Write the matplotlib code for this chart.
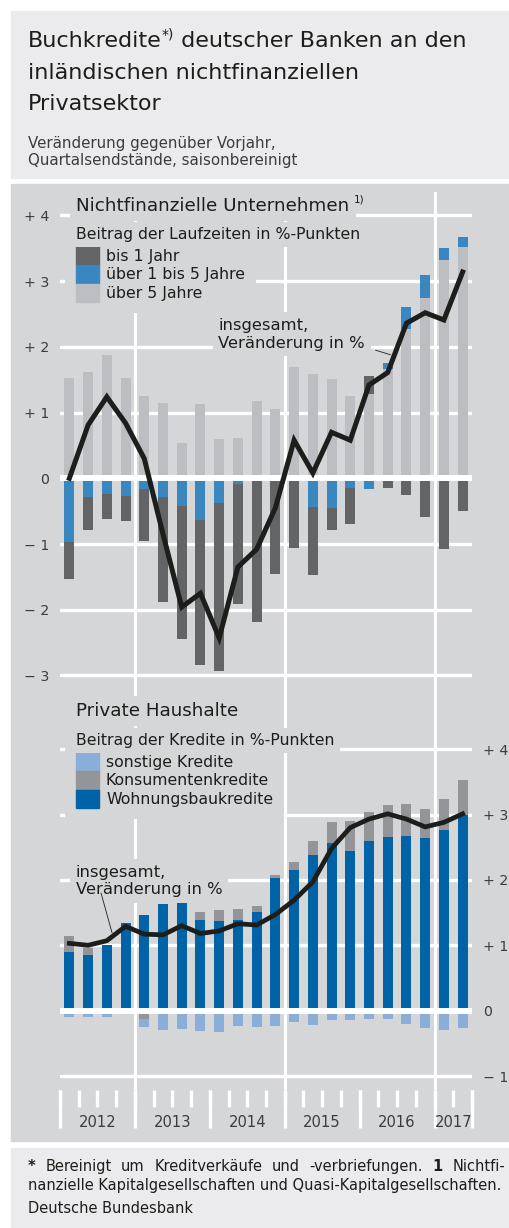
import matplotlib
matplotlib.use("Agg")
import matplotlib.pyplot as plt
from matplotlib.patches import Rectangle, Patch
import numpy as np

plt.rcParams["font.family"] = ["DejaVu Sans"]

# ─── data (Veränderung gegenüber Vorjahr, 2012 Q1 … 2017 Q2) ───────
YEARS = [2012] * 4 + [2013] * 4 + [2014] * 4 + [2015] * 4 + [2016] * 4 + [2017] * 2

# Nichtfinanzielle Unternehmen, Beitrag der Laufzeiten in %-Punkten
nfu_bis1 = [-0.57, -0.49, -0.38, -0.38, -0.79, -1.60, -2.03, -2.21, -2.55, -1.83, -2.17,
            -1.45, -1.03, -1.04, -0.34, -0.54, 0.27, -0.15, -0.26, -0.59, -1.08, -0.50]
nfu_1bis5 = [-0.97, -0.29, -0.24, -0.27, -0.17, -0.29, -0.42, -0.63, -0.38, -0.08, -0.01,
             0.0, -0.03, -0.43, -0.45, -0.15, -0.16, 0.09, 0.33, 0.35, 0.18, 0.15]
nfu_ueber5 = [1.53, 1.62, 1.88, 1.52, 1.26, 1.14, 0.53, 1.13, 0.60, 0.62, 1.17,
              1.05, 1.69, 1.59, 1.51, 1.25, 1.29, 1.67, 2.28, 2.75, 3.33, 3.52]
nfu_total = [0.0, 0.81, 1.24, 0.84, 0.30, -0.85, -1.96, -1.75, -2.43, -1.35, -1.08,
             -0.45, 0.58, 0.08, 0.70, 0.58, 1.42, 1.61, 2.36, 2.52, 2.41, 3.14]

# Private Haushalte, Beitrag der Kredite in %-Punkten
ph_wohnungsbau = [0.89, 0.85, 1.01, 1.34, 1.47, 1.63, 1.67, 1.39, 1.37, 1.39, 1.51,
                  2.03, 2.15, 2.38, 2.57, 2.44, 2.59, 2.66, 2.67, 2.64, 2.77, 3.00]
ph_konsum = [0.25, 0.11, 0.0, 0.0, -0.12, -0.04, 0.06, 0.12, 0.17, 0.16, 0.09,
             0.05, 0.12, 0.21, 0.32, 0.46, 0.45, 0.48, 0.49, 0.45, 0.46, 0.52]
ph_sonstige = [-0.09, -0.10, -0.09, -0.02, -0.13, -0.26, -0.28, -0.31, -0.32, -0.24, -0.25,
               -0.23, -0.18, -0.22, -0.14, -0.14, -0.13, -0.13, -0.20, -0.27, -0.29, -0.27]
ph_total = [1.03, 1.00, 1.07, 1.29, 1.17, 1.16, 1.30, 1.18, 1.22, 1.33, 1.31,
            1.47, 1.69, 1.97, 2.48, 2.80, 2.93, 3.01, 2.93, 2.81, 2.88, 3.01]

TOP_TICKS = [4, 3, 2, 1, 0, -1, -2, -3]
BOT_TICKS = [4, 3, 2, 1, 0, -1]

# ─── styling ───────────────────────────────────────────────────────
W, H = 510, 1228
HEADER_BG = "#ebebed"
PANEL_BG = "#d5d6d8"
INK = "#1d1d1b"
GREY_TXT = "#3c3c3c"
C_BIS1, C_1BIS5, C_UEBER5 = "#636466", "#3a86c0", "#bdbec1"
C_SONST, C_KONSUM, C_WOHN = "#8aaed8", "#939598", "#0063a7"
BAR_W = 0.535

F_TITLE = 16
F_SUB = 10.8
F_PANEL = 13.2
F_TXT = 11.3
F_ANN = 11.8
F_TICK = 10.2
F_YEAR = 10.6
F_FOOT = 10.5


def fx(px):
    return px / W


def fy(py):
    return 1 - py / H


def tick_label(v):
    if v > 0:
        return f"+ {v}"
    if v < 0:
        return f"\u2212 {abs(v)}"
    return "0"


fig = plt.figure(figsize=(W / 100, H / 100), dpi=100)
renderer = fig.canvas.get_renderer()

# background boxes
for top, bottom, col in [(11, 178, HEADER_BG), (184, 1141, PANEL_BG), (1148, 1228, HEADER_BG)]:
    fig.add_artist(Rectangle((fx(11), fy(bottom)), fx(W) - fx(11), (bottom - top) / H,
                             transform=fig.transFigure, color=col, zorder=-5))

MASK = dict(facecolor=PANEL_BG, edgecolor="none", boxstyle="square,pad=0.35")


def runs(x, y, parts, **kw):
    """Place consecutive text pieces (text, size, rise) on one baseline."""
    for s, size, rise in parts:
        t = fig.text(fx(x), fy(y - rise), s, fontsize=size, va="baseline", **kw)
        x += t.get_window_extent(renderer).width


def justify(words, x0, x1, y, size):
    arts = [fig.text(0, fy(y), w, fontsize=size, fontweight=wt, va="baseline", color=INK)
            for w, wt in words]
    widths = [a.get_window_extent(renderer).width for a in arts]
    gap = (x1 - x0 - sum(widths)) / (len(arts) - 1)
    x = x0
    for a, w in zip(arts, widths):
        a.set_x(fx(x))
        x += w + gap


# header
runs(28, 47, [("Buchkredite", F_TITLE, 0), ("*)", 10, 8), (" deutscher Banken an den", F_TITLE, 0)],
     color=INK)
fig.text(fx(28), fy(79), "inländischen nichtfinanziellen", fontsize=F_TITLE, va="baseline", color=INK)
fig.text(fx(28), fy(110), "Privatsektor", fontsize=F_TITLE, va="baseline", color=INK)
fig.text(fx(28), fy(148), "Veränderung gegenüber Vorjahr,", fontsize=F_SUB, va="baseline",
         color=GREY_TXT)
fig.text(fx(28), fy(165), "Quartalsendstände, saisonbereinigt", fontsize=F_SUB, va="baseline",
         color=GREY_TXT)

x = np.arange(len(YEARS))
year_list = sorted(set(YEARS))
year_pos = [x[np.array(YEARS) == yr].mean() for yr in year_list]
year_edges = [x[np.array(YEARS) == yr].min() - 0.5 for yr in year_list] + [x[-1] + 0.5]
quarter_edges = np.arange(len(YEARS) + 1) - 0.5


def stacked(ax, series, colors):
    pos = np.zeros(len(x))
    neg = np.zeros(len(x))
    for vals, col in zip(series, colors):
        v = np.asarray(vals, dtype=float)
        ax.bar(x, v, BAR_W, bottom=np.where(v >= 0, pos, neg), color=col, linewidth=0, zorder=2)
        pos += np.clip(v, 0, None)
        neg += np.clip(v, None, 0)


def panel(ax, ticks):
    ax.patch.set_visible(False)
    for s in ax.spines.values():
        s.set_visible(False)
    ax.set_xlim(-0.5, len(x) - 0.5)
    ax.set_xticks([])
    ax.set_yticks(ticks)
    ax.set_yticklabels([tick_label(t) for t in ticks])
    ax.tick_params(axis="y", length=0, pad=8, labelsize=F_TICK, labelcolor=GREY_TXT)
    for t in ticks:
        if t == 0:
            ax.axhline(0, color="white", lw=4.3, zorder=2.5)
        else:
            ax.axhline(t, color="white", lw=2.4, zorder=1)
    for e in year_edges[1::2]:
        if e < len(x) - 0.5:
            ax.axvline(e, color="white", lw=2.2, zorder=1)


def panel_legend(ax, handles, top_px):
    size_px = F_TXT * 100 / 72
    leg = ax.legend(
        handles=handles, loc="upper left",
        bbox_to_anchor=(fx(76 - 11), fy(top_px - 11)), bbox_transform=fig.transFigure,
        fontsize=F_TXT, handlelength=23 / size_px, handleheight=23 / size_px, labelspacing=0,
        handletextpad=7 / size_px, borderpad=11 / size_px, borderaxespad=0, frameon=True,
        fancybox=False, framealpha=1, facecolor=PANEL_BG, edgecolor="none", labelcolor=INK,
    )
    leg.set_zorder(6)


# ─── top panel: Nichtfinanzielle Unternehmen ───────────────────────
ax1 = fig.add_axes([fx(60), fy(700), 412 / W, (700 - 192) / H])
ax1.set_ylim((478.3 - 700) / 65.7, (478.3 - 192) / 65.7)
panel(ax1, TOP_TICKS)
stacked(ax1, [nfu_ueber5, nfu_1bis5, nfu_bis1], [C_UEBER5, C_1BIS5, C_BIS1])
ax1.plot(x, nfu_total, color=INK, lw=3.6, solid_joinstyle="miter", zorder=4)

t1 = fig.text(fx(76), fy(211), "Nichtfinanzielle Unternehmen", fontsize=F_PANEL, va="baseline",
              color=INK, bbox=MASK)
x_sup = 76 + t1.get_window_extent(renderer).width + 5
fig.text(fx(x_sup), fy(203), "1)", fontsize=7.5, va="baseline", color=INK, bbox=MASK)
fig.text(fx(76), fy(239), "Beitrag der Laufzeiten in %-Punkten", fontsize=F_TXT, va="baseline",
         color=INK, bbox=MASK)
panel_legend(ax1, [Patch(color=C_BIS1, label="bis 1 Jahr"),
                   Patch(color=C_1BIS5, label="über 1 bis 5 Jahre"),
                   Patch(color=C_UEBER5, label="über 5 Jahre")], 246)
ax1.text(7.95, 2.19, "insgesamt,\nVeränderung in %", fontsize=F_ANN, color=INK, va="center",
         linespacing=1.2, bbox=MASK, zorder=5)
ax1.annotate("", xy=(17.15, 1.88), xytext=(16.35, 1.95),
             arrowprops=dict(arrowstyle="-", lw=0.6, color=INK, shrinkA=0, shrinkB=0), zorder=5)

# ─── bottom panel: Private Haushalte ───────────────────────────────
ax2 = fig.add_axes([fx(60), fy(1090), 412 / W, (1090 - 700) / H])
ax2.set_ylim((1010.7 - 1090) / 65.4, (1010.7 - 700) / 65.4)
ax2.yaxis.tick_right()
panel(ax2, BOT_TICKS)
stacked(ax2, [ph_wohnungsbau, ph_konsum, ph_sonstige], [C_WOHN, C_KONSUM, C_SONST])
ax2.plot(x, ph_total, color=INK, lw=3.4, solid_joinstyle="miter", zorder=4)

fig.text(fx(76), fy(716), "Private Haushalte", fontsize=F_PANEL, va="baseline", color=INK, bbox=MASK)
fig.text(fx(76), fy(745), "Beitrag der Kredite in %-Punkten", fontsize=F_TXT, va="baseline",
         color=INK, bbox=MASK)
panel_legend(ax2, [Patch(color=C_SONST, label="sonstige Kredite"),
                   Patch(color=C_KONSUM, label="Konsumentenkredite"),
                   Patch(color=C_WOHN, label="Wohnungsbaukredite")], 752)
ax2.text(0.35, 1.98, "insgesamt,\nVeränderung in %", fontsize=F_ANN, color=INK, va="center",
         linespacing=1.2, bbox=MASK, zorder=5)
ax2.annotate("", xy=(2.28, 1.19), xytext=(1.69, 1.80),
             arrowprops=dict(arrowstyle="-", lw=0.6, color=INK, shrinkA=0, shrinkB=0), zorder=5)

# ─── x axis strip with quarter ticks and years ─────────────────────
ax3 = fig.add_axes([fx(60), fy(1130), 412 / W, 40 / H])
ax3.set_xlim(-0.5, len(x) - 0.5)
ax3.set_ylim(0, 1)
ax3.axis("off")
ax3.vlines(quarter_edges, 0.575, 1.0, color="white", lw=2.4, clip_on=False)
ax3.vlines(year_edges, 0.05, 1.0, color="white", lw=2.4, clip_on=False)
for yr, p in zip(year_list, year_pos):
    ax3.text(p, 0.19, str(yr), ha="center", va="center", fontsize=F_YEAR, color=GREY_TXT)

# ─── footer ────────────────────────────────────────────────────────
justify([("*", "bold"), ("Bereinigt", "normal"), ("um", "normal"), ("Kreditverkäufe", "normal"),
         ("und", "normal"), ("-verbriefungen.", "normal"), ("1", "bold"), ("Nichtfi-", "normal")],
        28, 505, 1171, F_FOOT)
fig.text(fx(28), fy(1190), "nanzielle Kapitalgesellschaften und Quasi-Kapitalgesellschaften.",
         fontsize=F_FOOT, va="baseline", color=INK)
fig.text(fx(28), fy(1213), "Deutsche Bundesbank", fontsize=F_FOOT, va="baseline", color=INK)

fig.savefig("out.png", dpi=100)
